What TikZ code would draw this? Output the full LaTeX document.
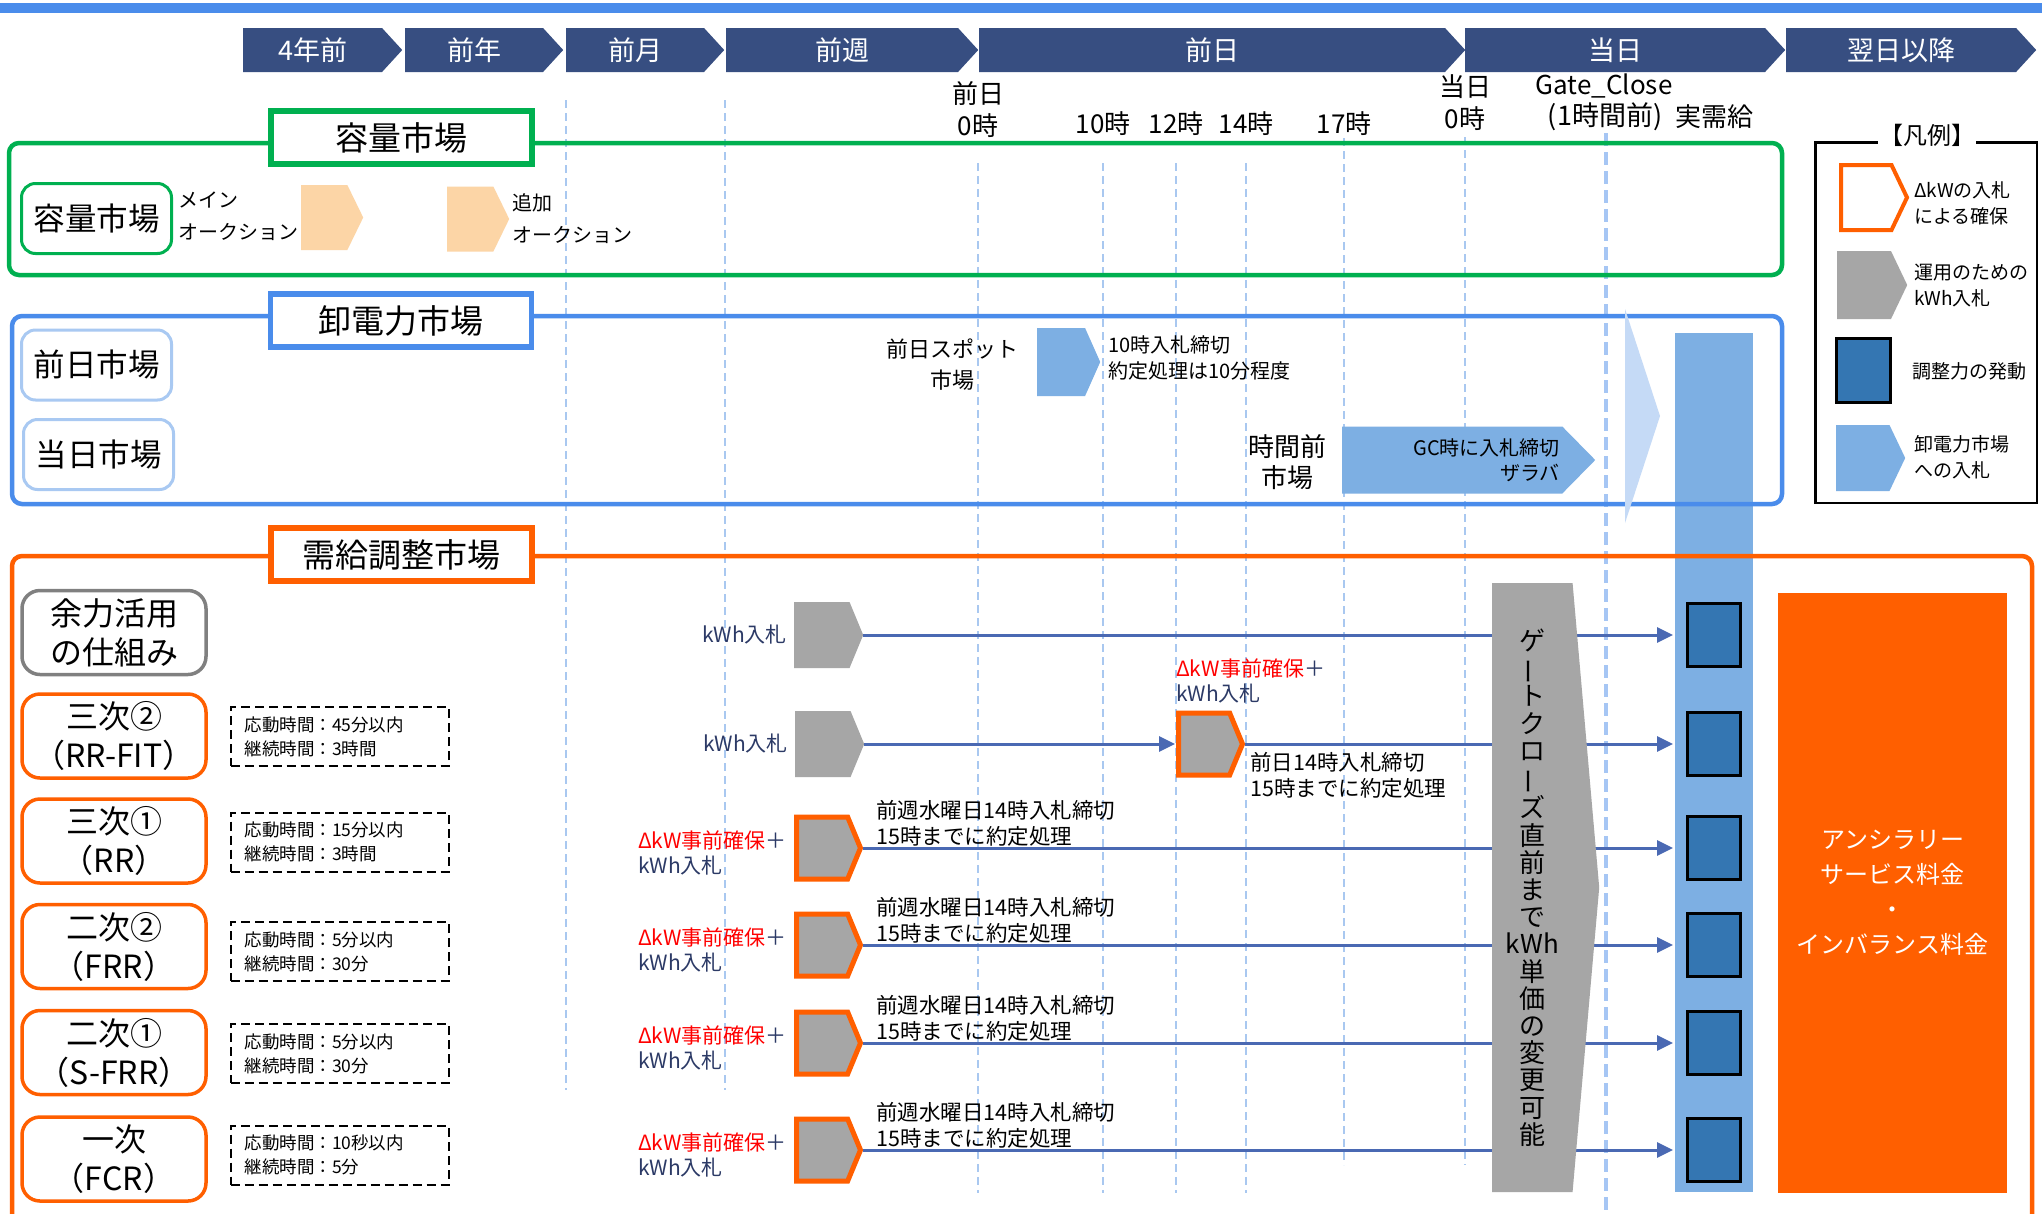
\documentclass[tikz,border=0pt]{standalone}
\usepackage{fontspec}
\usepackage{graphicx}
\usepackage{xcolor}
\usepackage{tikz}
\usetikzlibrary{
  arrows.meta,
  shapes,
  shapes.symbols,
  positioning
}
\setmainfont{Noto Sans CJK JP}
\definecolor{tlNavy}{HTML}{374E81}
\definecolor{mkGreen}{HTML}{00B050}
\definecolor{mkBlue}{HTML}{4A8CEB}
\definecolor{mkLightBlue}{HTML}{A9C9F2}
\definecolor{mkOrange}{HTML}{FF5F00}
\definecolor{mkPeach}{HTML}{FCD5A6}
\definecolor{mkBid}{HTML}{7DAFE3}
\definecolor{mkPale}{HTML}{C5DAF6}
\definecolor{mkGray}{HTML}{A6A6A6}
\definecolor{mkBoxGray}{HTML}{808080}
\definecolor{mkActive}{HTML}{3476B2}
\definecolor{mkArrow}{HTML}{4A69B3}
\definecolor{mkGrid}{HTML}{A9C8F0}
\definecolor{mkGate}{HTML}{A6C6F4}
\definecolor{mkRed}{HTML}{FF0000}
\definecolor{mkInk}{HTML}{2C3A66}
\newcommand{\fsz}[2]{\fontsize{#1}{#2}\selectfont}
\newcommand{\tatebar}{\rotatebox[origin=c]{90}{ー}}
\tikzset{
  phasebox/.style={shape=signal, signal to=east, signal from=nowhere, signal pointer angle=95,
    fill=tlNavy, text=white, minimum height=44pt, inner sep=0pt, anchor=west, font=\fsz{27}{30}},
  timelbl/.style={align=center, inner sep=0pt, font=\fsz{26}{32}},
  gridline/.style={mkGrid, line width=1.3pt, dash pattern=on 8pt off 5pt},
  gateline/.style={mkGate, line width=4pt, dash pattern=on 13pt off 6pt},
  sectionframe/.style={line width=4.5pt, rounded corners=10pt},
  sectionhead/.style={draw, line width=5.5pt, fill=white, minimum width=261pt, minimum height=53pt,
    inner sep=0pt, font=\fsz{33}{36}},
  market/.style={draw, line width=3pt, rounded corners=14pt, fill=white, minimum width=150pt,
    minimum height=70pt, inner sep=0pt, font=\fsz{31.5}{36}},
  product/.style={market, draw=mkOrange, line width=3.5pt, rounded corners=18pt, minimum width=184pt,
    minimum height=84pt, align=center, font=\fsz{32}{39}},
  spec/.style={draw, line width=2pt, dash pattern=on 9pt off 5pt, text width=190pt, inner xsep=14pt,
    inner ysep=0pt, minimum height=59pt, align=left, font=\fsz{17.5}{24}},
  plate/.style={shape=signal, signal to=east, signal from=nowhere, inner sep=0pt, anchor=west},
  kwhplate/.style={plate, fill=mkGray, minimum width=69pt, minimum height=66pt, signal pointer angle=135},
  dkwplate/.style={kwhplate, draw=mkOrange, line width=5pt, minimum width=64pt, minimum height=62pt},
  bidplate/.style={plate, fill=mkBid},
  peachplate/.style={plate, fill=mkPeach, minimum width=62pt, minimum height=65pt, signal pointer angle=128},
  activation/.style={draw=black, line width=3pt, fill=mkActive, minimum width=53pt, minimum height=63pt, inner sep=0pt},
  bidline/.style={line width=3pt, mkArrow, -{Triangle[length=16pt, width=15pt]}},
  note/.style={align=left, inner sep=0pt, font=\fsz{20}{26}},
  deadline/.style={note, anchor=west, font=\fsz{21.5}{26}},
  bidnote/.style={note, text=mkInk, font=\fsz{21}{25}},
  legtext/.style={note, anchor=west, font=\fsz{19}{26}}
}

\begin{document}
\begin{tikzpicture}[x=1pt, y=-1pt]
  \useasboundingbox (0,0) rectangle (2042,1213);
  \fill[white] (0,0) rectangle (2042,1213);
  \fill[mkBlue] (0,3) rectangle (2042,13);

  \foreach \gx/\gt/\gb in {566/100/1090, 725/100/1090, 978/163/1193, 1103/163/1193,
      1176/163/1193, 1246/163/1193, 1344/138/1165, 1465/137/1165}{
    \draw[gridline] (\gx,\gt) -- (\gx,\gb);
  }
  \draw[gateline] (1606,133) -- (1606,1213);

  \foreach \x/\w/\lbl [count=\n] in {243/159/4年前, 405/158/前年, 566/158/前月, 726/252/前週,
      979/486/前日, 1465/320/当日, 1786/250/翌日以降}{
    \node[phasebox, minimum width=\w] (ph\n) at (\x,50) {\lbl};
  }

  \node[timelbl] (tprev) at (978,110) {前日\\0時};
  \foreach \x/\lbl in {1103/10時, 1176/12時, 1246/14時, 1344/17時}{
    \node[timelbl] (t\lbl) at (\x,124) {\lbl};
  }
  \node[timelbl] (tday) at (1465,103) {当日\\0時};
  \node[timelbl] (gc) at (1604,86) {Gate\_Close};
  \node[timelbl, font=\fsz{27}{32}] (gcsub) at (1605,117) {(1時間前)};
  \node[timelbl] (jitsu) at (1714,117) {実需給};

  \node[fill=mkBid, minimum width=78pt, minimum height=859pt, inner sep=0pt] (realtime) at (1714,762.5) {};

  \draw[sectionframe, mkGreen] (9,143) rectangle (1782,275);
  \draw[sectionframe, mkBlue] (12,316) rectangle (1782,504);
  \draw[sectionframe, mkOrange] (12,1240) -- (12,556) -- (2032,556) -- (2032,1240);

  \node[sectionhead, draw=mkGreen] (caphead) at (401.5,137.5) {容量市場};
  \node[sectionhead, draw=mkBlue] (whohead) at (401,320.5) {卸電力市場};
  \node[sectionhead, draw=mkOrange] (balhead) at (401.5,554.5) {需給調整市場};

  \node[market, draw=mkGreen] (capmkt) at (96.5,218.5) {容量市場};
  \node[note, anchor=west, font=\fsz{20}{32}] (mainlbl) at (178,216) {メイン\\オークション};
  \node[peachplate] (mainauc) at (301,217.5) {};
  \node[peachplate] (addauc) at (447,219) {};
  \node[note, anchor=west, font=\fsz{20}{32}] (addlbl) at (512,219) {追加\\オークション};

  \node[market, draw=mkLightBlue] (dayahead) at (96.5,365) {前日市場};
  \node[market, draw=mkLightBlue] (intraday) at (98.5,454.5) {当日市場};
  \node[timelbl, font=\fsz{22}{31}] (spotlbl) at (952,364.5) {前日スポット\\市場};
  \node[bidplate, minimum width=63pt, minimum height=68pt, signal pointer angle=132] (spot) at (1037,362) {};
  \node[note, anchor=west] (spotnote) at (1108,358) {10時入札締切\\約定処理は10分程度};
  \node[timelbl, font=\fsz{26}{31}] (intralbl) at (1287,462.5) {時間前\\市場};
  \node[bidplate, minimum width=253pt, minimum height=67pt, signal pointer angle=91] (intra) at (1342,460) {};
  \node[note, align=right, anchor=east, font=\fsz{20}{25}] (intranote) at (1560,460.5) {GC時に入札締切\\ザラバ};
  \fill[mkPale] (1625,309) -- (1660,416) -- (1625,523) -- cycle;

  \node[product, draw=mkBoxGray] (yoryoku) at (114,632.5) {余力活用\\の仕組み};
  \foreach \nm/\yy/\lbl in {rrfit/736/{三次②\\（RR-FIT）}, rr/841/{三次①\\（RR）},
      frr/946.5/{二次②\\（FRR）}, sfrr/1052.5/{二次①\\（S-FRR）}, fcr/1159/{一次\\（FCR）}}{
    \node[product] (\nm) at (114,\yy) {\lbl};
  }
  \foreach \nm/\yy/\resp/\dur in {rrfit/736.5/45分以内/3時間, rr/842/15分以内/3時間,
      frr/951.5/5分以内/30分, sfrr/1053.5/5分以内/30分, fcr/1155/10秒以内/5分}{
    \node[spec] (spec-\nm) at (339.5,\yy) {応動時間：\resp\\継続時間：\dur};
  }

  \node[fill=mkOrange, text=white, minimum width=229pt, minimum height=600pt, inner sep=0pt,
    align=center, font=\fsz{24}{35}] (fees) at (1892.5,893) {アンシラリー\\サービス料金\\・\\インバランス料金};

  \foreach \k/\yy in {1/635, 2/744, 3/848, 4/945, 5/1043, 6/1150}{
    \node[activation] (act\k) at (1714,\yy) {};
  }

  \node[kwhplate] (bid1) at (794,635) {};
  \node[bidnote, left=7pt of bid1.west] (kwh1) {kWh入札};
  \node[kwhplate] (bid2) at (795,744) {};
  \node[bidnote, left=7pt of bid2.west] (kwh2) {kWh入札};
  \node[dkwplate] (dkw2) at (1176,744) {};
  \node[bidnote, anchor=west] (dkwlbl2) at (1176,681) {\textcolor{mkRed}{ΔkW事前確保}＋\\kWh入札};
  \node[deadline] (dl2) at (1250,775) {前日14時入札締切\\15時までに約定処理};
  \foreach \k/\yy in {3/848, 4/945, 5/1043, 6/1150}{
    \node[dkwplate] (bid\k) at (794,\yy) {};
    \node[bidnote, left=7pt of bid\k.west, yshift=-5pt] (dkwlbl\k) {\textcolor{mkRed}{ΔkW事前確保}＋\\kWh入札};
    \node[deadline] (dl\k) at (876,\yy-25) {前週水曜日14時入札締切\\15時までに約定処理};
  }

  \foreach \k in {1,3,4,5,6}{
    \draw[bidline, shorten >=13pt] (bid\k.east) -- (act\k.west);
  }
  \draw[bidline, shorten >=1pt] (bid2.east) -- (dkw2.west);
  \draw[bidline, shorten >=13pt] (dkw2.east) -- (act2.west);

  \node[plate, fill=mkGray, minimum width=107pt, minimum height=609pt, signal pointer angle=170,
    align=center, font=\fsz{26}{27.2}] (gate) at (1492,887.5)
    {ゲ\\\tatebar\\ト\\ク\\ロ\\\tatebar\\ズ\\直\\前\\ま\\で\\kWh\\単\\価\\の\\変\\更\\可\\能};

  \node[draw, line width=2.5pt, minimum width=221.5pt, minimum height=360.5pt, inner sep=0pt] (legend) at (1926,322.5) {};
  \node[fill=white, inner xsep=1pt, inner ysep=0pt, font=\fsz{24}{26}] (legtitle) at (1927,135) {【凡例】};
  \node[plate, draw=mkOrange, line width=4pt, fill=white, minimum width=66pt, minimum height=65pt,
    signal pointer angle=129] (leg1) at (1839,197.5) {};
  \node[legtext] (legtxt1) at (1914,203) {ΔkWの入札\\による確保};
  \node[plate, fill=mkGray, minimum width=70pt, minimum height=68pt, signal pointer angle=129] (leg2) at (1837,285) {};
  \node[legtext] (legtxt2) at (1914,285.5) {運用のための\\kWh入札};
  \node[activation, minimum width=54pt, minimum height=64pt] (leg3) at (1863.5,370.5) {};
  \node[legtext] (legtxt3) at (1912,371) {調整力の発動};
  \node[bidplate, minimum width=69pt, minimum height=66pt, signal pointer angle=129] (leg4) at (1836,458) {};
  \node[legtext] (legtxt4) at (1914,457) {卸電力市場\\への入札};
\end{tikzpicture}
\end{document}
